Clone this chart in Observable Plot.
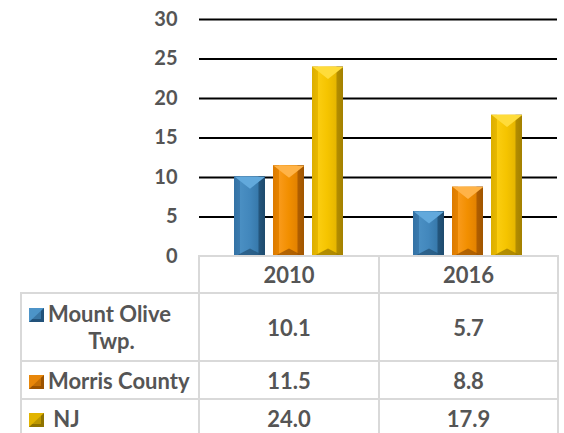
<!DOCTYPE html>
<html><head><meta charset="utf-8">
<script src="https://cdn.jsdelivr.net/npm/d3@7"></script>
<script src="https://cdn.jsdelivr.net/npm/@observablehq/plot@0.6"></script>
<style>
html,body{margin:0;padding:0;background:#fff;}
#wrap{position:relative;width:564px;height:433px;overflow:hidden;font-family:Lato,"Open Sans",sans-serif;}
#chart{position:absolute;left:0;top:0;}
#tbl{position:absolute;left:20px;top:255px;border-collapse:collapse;table-layout:fixed;font-weight:bold;font-size:22px;color:#555;font-family:Lato,sans-serif;}
#tbl td{border:2px solid #d9d9d9;text-align:center;vertical-align:middle;padding:0;}
#tbl td.empty{border-top:none;border-left:none;}
#tbl td.lab{text-align:left;padding-left:7px;line-height:27px;white-space:pre;}
.key{display:inline-block;vertical-align:0px;margin-right:4px;}
</style></head><body>
<svg width="0" height="0" style="position:absolute">
<defs>
<linearGradient id="g0" x1="0" x2="1" y1="0" y2="0">
<stop offset="0" stop-color="#3372a5"/><stop offset="0.19" stop-color="#3a7aae"/>
<stop offset="0.2" stop-color="#4a8fc3"/><stop offset="0.5" stop-color="#4287bc"/>
<stop offset="0.78" stop-color="#3779ab"/><stop offset="0.8" stop-color="#24567d"/>
<stop offset="1" stop-color="#1d4a6d"/>
</linearGradient>
<linearGradient id="g1" x1="0" x2="1" y1="0" y2="0">
<stop offset="0" stop-color="#dc7a00"/><stop offset="0.19" stop-color="#e68400"/>
<stop offset="0.2" stop-color="#f99a1a"/><stop offset="0.5" stop-color="#f28f00"/>
<stop offset="0.78" stop-color="#e38200"/><stop offset="0.8" stop-color="#b05e00"/>
<stop offset="1" stop-color="#a05500"/>
</linearGradient>
<linearGradient id="g2" x1="0" x2="1" y1="0" y2="0">
<stop offset="0" stop-color="#dcae00"/><stop offset="0.19" stop-color="#e8b800"/>
<stop offset="0.2" stop-color="#fbcd10"/><stop offset="0.5" stop-color="#f5c400"/>
<stop offset="0.78" stop-color="#e6b600"/><stop offset="0.8" stop-color="#b38d00"/>
<stop offset="1" stop-color="#a38000"/>
</linearGradient>
</defs></svg>
<div id="wrap"><div id="chart"></div><table id="tbl"></table></div>
<script>
// ---- data ----
const years = ["2010", "2016"];
const series = ["Mount Olive Twp.", "Morris County", "NJ"];
const values2010 = [10.1, 11.5, 24.0];
const values2016 = [5.7, 8.8, 17.9];
const yTicks = [0, 5, 10, 15, 20, 25, 30];
const rowLabels = [["Mount Olive", "Twp."], ["Morris County"], [" NJ"]];
const tableValues = [["10.1", "5.7"], ["11.5", "8.8"], ["24.0", "17.9"]];

// ---- styles ----
const lightColors = ["#62a9dc", "#ffb347", "#ffdc3a"];
const darkColors = ["#24547a", "#9c5300", "#9c7a00"];
const keyLight = ["#4d94c8", "#e8870a", "#e2b400"];
const keyDark = ["#22527a", "#9c5300", "#8f7300"];

const rows = [];
years.forEach((yr, i) => series.forEach((s, j) => rows.push({year: yr, series: s, idx: j, value: (i ? values2016 : values2010)[j]})));

const W = 564, H = 256, mL = 198, mR = 7, mT = 19, mB = 0;
const pI = 0.21, pO = 0.85;
const facetW = (W - mL - mR) / years.length;
const step = facetW / (series.length - pI + 2 * pO);
const bw = step * (1 - pI);
const hw = bw / 2 - 0.5;

const topChevron = {draw(ctx) { ctx.moveTo(-hw, 0); ctx.lineTo(hw, 0); ctx.lineTo(0, 12); ctx.closePath(); }};
const bottomChevron = {draw(ctx) { ctx.moveTo(-hw, 0); ctx.lineTo(hw, 0); ctx.lineTo(0, -8); ctx.closePath(); }};

const marks = [Plot.ruleY(yTicks.filter(t => t > 0), {stroke: "#000", strokeWidth: 1.8})];
series.forEach((s, j) => {
  const d = rows.filter(r => r.idx === j);
  marks.push(Plot.barY(d, {fx: "year", x: "series", y: "value", fill: `url(#g${j})`}));
  marks.push(Plot.dot(d, {fx: "year", x: "series", y: "value", symbol: topChevron, fill: lightColors[j], stroke: "none"}));
  marks.push(Plot.dot(d, {fx: "year", x: "series", y: () => 0, symbol: bottomChevron, fill: darkColors[j], stroke: "none", fillOpacity: 0.75}));
});

const chart = Plot.plot({
  width: W, height: H,
  marginLeft: mL, marginRight: mR, marginTop: mT, marginBottom: mB,
  fx: {domain: years, padding: 0, axis: null, label: null},
  x: {domain: series, paddingInner: pI, paddingOuter: pO, axis: null, label: null},
  y: {domain: [0, 30], ticks: yTicks, tickSize: 0, tickPadding: 22, label: null},
  style: {fontFamily: "Lato, sans-serif", fontSize: "20px", fontWeight: "bold", color: "#555", background: "transparent", overflow: "visible"},
  marks
});
document.getElementById("chart").appendChild(chart);

// ---- data table ----
function keySvg(j) {
  return `<svg class="key" width="15" height="14" viewBox="0 0 15 14"><rect width="15" height="14" fill="${keyDark[j]}"/><polygon points="0,0 15,0 0,14" fill="${keyLight[j]}"/><polygon points="3,3 12,3 12,11 3,11" fill="${keyLight[j]}" opacity="0.55"/></svg>`;
}
const colW = [178, 180, 179];
const rowH = [37, 68, 38, 38];
let html = `<colgroup>${colW.map(w => `<col style="width:${w}px">`).join("")}</colgroup>`;
html += `<tr style="height:${rowH[0]}px"><td class="empty"></td>${years.map(y => `<td>${y}</td>`).join("")}</tr>`;
rowLabels.forEach((lines, j) => {
  let lab = `<div>${keySvg(j)}${lines[0]}</div>`;
  if (lines.length > 1) lab += `<div style="text-align:center;padding-right:4px">${lines[1]}</div>`;
  html += `<tr style="height:${rowH[j + 1]}px"><td class="lab">${lab}</td>${tableValues[j].map(v => `<td>${v}</td>`).join("")}</tr>`;
});
document.getElementById("tbl").innerHTML = html;
</script>
</body></html>
